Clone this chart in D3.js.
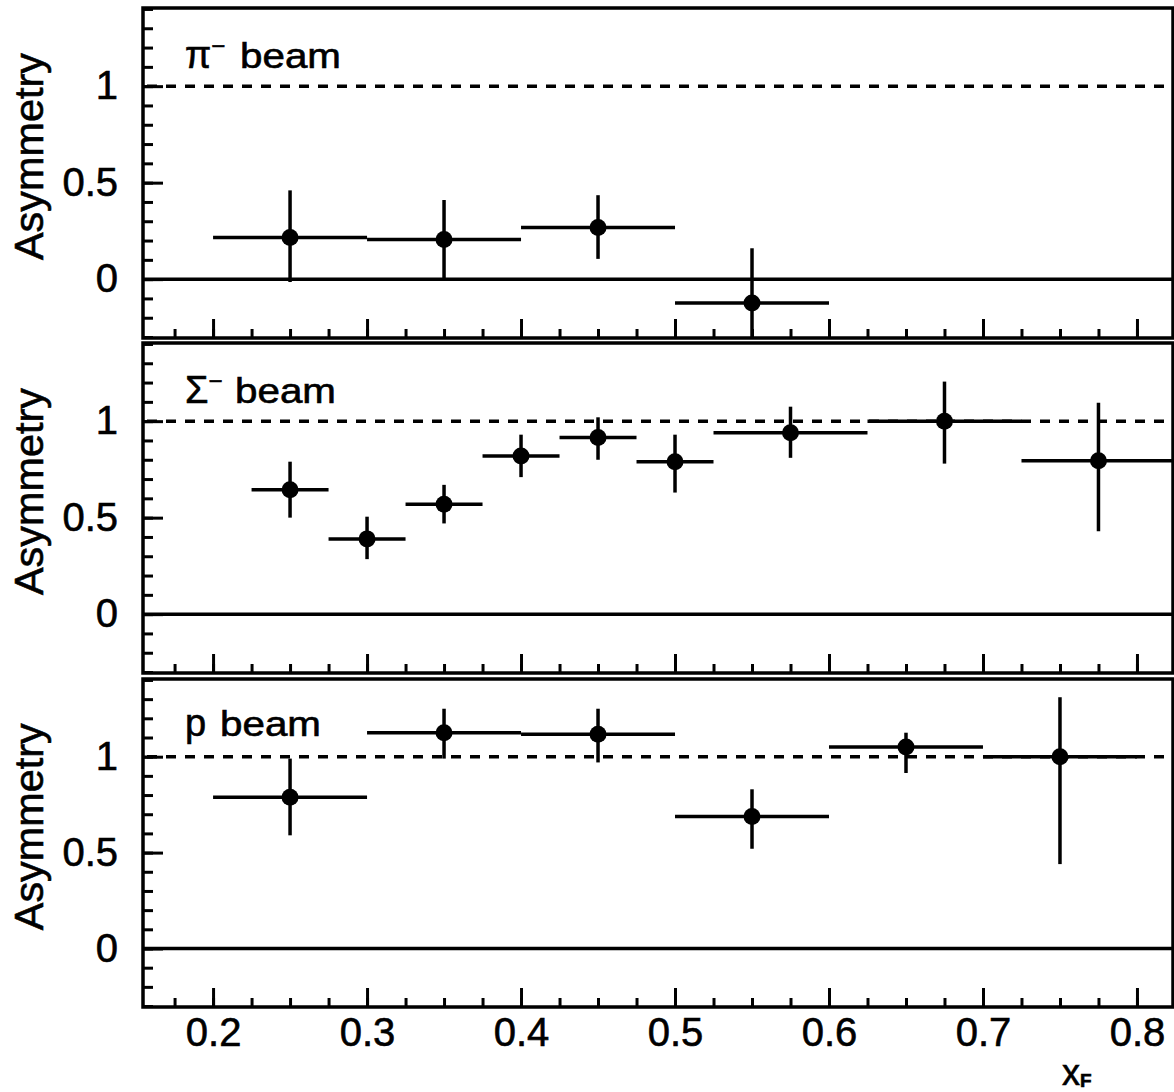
<!DOCTYPE html>
<html>
<head>
<meta charset="utf-8">
<script src="https://cdn.jsdelivr.net/npm/d3@7"></script>
<style>
  body { margin: 0; background: #fff; }
  svg { display: block; font-family: "Liberation Sans", Arial, sans-serif; }
  text { stroke: #000; stroke-width: 0.6px; }
</style>
</head>
<body>
<svg id="chart" width="1174" height="1092"></svg>
<script>
// pi- beam
const piX = [0.25, 0.35, 0.45, 0.55];
const piBins = [[0.2, 0.3], [0.3, 0.4], [0.4, 0.5], [0.5, 0.6]];
const piA = [0.216, 0.205, 0.268, -0.124];
const piErr = [[-0.015, 0.46], [0.005, 0.41], [0.105, 0.435], [-0.42, 0.16]];

// Sigma- beam
const sigX = [0.25, 0.3, 0.35, 0.4, 0.45, 0.5, 0.575, 0.675, 0.775];
const sigBins = [[0.225, 0.275], [0.275, 0.325], [0.325, 0.375], [0.375, 0.425], [0.425, 0.475],
                 [0.475, 0.525], [0.525, 0.625], [0.625, 0.725], [0.725, 0.825]];
const sigA = [0.645, 0.39, 0.57, 0.82, 0.915, 0.79, 0.94, 1.0, 0.795];
const sigErr = [[0.50, 0.79], [0.285, 0.505], [0.47, 0.67], [0.71, 0.93], [0.80, 1.02],
                [0.63, 0.93], [0.81, 1.075], [0.78, 1.205], [0.43, 1.095]];

// p beam
const pX = [0.25, 0.35, 0.45, 0.55, 0.65, 0.75];
const pBins = [[0.2, 0.3], [0.3, 0.4], [0.4, 0.5], [0.5, 0.6], [0.6, 0.7], [0.7, 0.8]];
const pA = [0.788, 1.125, 1.117, 0.688, 1.05, 1.0];
const pErr = [[0.59, 0.99], [0.99, 1.25], [0.97, 1.25], [0.52, 0.83], [0.915, 1.125], [0.44, 1.31]];

const xMajor = [0.2, 0.3, 0.4, 0.5, 0.6, 0.7, 0.8];
const xMinor = d3.range(0.175, 0.83, 0.025).map(d => +d.toFixed(3));
const yMajor = [0, 0.5, 1];
const yMinor = d3.range(-0.3, 1.41, 0.1).map(d => +d.toFixed(2));

const panels = [
    { sym: "π", sup: true, x: piX, bins: piBins, a: piA, err: piErr, top: 8, bottom: 338 },
    { sym: "Σ", sup: true, x: sigX, bins: sigBins, a: sigA, err: sigErr, top: 343, bottom: 673 },
    { sym: "p", sup: false, x: pX, bins: pBins, a: pA, err: pErr, top: 679, bottom: 1007 }
];

const svg = d3.select("#chart");
const left = 143, right = 1173;
const xScale = d3.scaleLinear().domain([0.1545, 0.8234]).range([left, right]);

panels.forEach((p, i) => {
    const y = d3.scaleLinear().domain([-0.305, 1.405]).range([p.bottom, p.top]);
    const g = svg.append("g");

    g.append("clipPath").attr("id", "clip" + i)
        .append("rect").attr("x", left).attr("y", p.top)
        .attr("width", right - left).attr("height", p.bottom - p.top);

    // minor y ticks
    g.append("g").attr("transform", `translate(${left},0)`)
        .call(d3.axisLeft(y).tickValues(yMinor).tickSize(-10).tickFormat(""))
        .call(a => a.select(".domain").remove())
        .call(a => a.selectAll("line").attr("stroke-width", 3));
    // major y ticks + labels
    g.append("g").attr("transform", `translate(${left},0)`)
        .call(d3.axisLeft(y).tickValues(yMajor).tickSize(-20).tickPadding(25)
            .tickFormat(d3.format("")))
        .call(a => a.select(".domain").remove())
        .call(a => a.selectAll("line").attr("stroke-width", 3))
        .call(a => a.selectAll("text").attr("font-size", 40).attr("fill", "#000")
            .attr("font-family", "Liberation Sans, Arial, sans-serif"));

    // x ticks at panel bottom
    g.append("g").attr("transform", `translate(0,${p.bottom})`)
        .call(d3.axisBottom(xScale).tickValues(xMinor).tickSize(-9).tickFormat(""))
        .call(a => a.select(".domain").remove())
        .call(a => a.selectAll("line").attr("stroke-width", 3));
    g.append("g").attr("transform", `translate(0,${p.bottom})`)
        .call(d3.axisBottom(xScale).tickValues(xMajor).tickSize(-19).tickPadding(11)
            .tickFormat(i === 2 ? d3.format("") : ""))
        .call(a => a.select(".domain").remove())
        .call(a => a.selectAll("line").attr("stroke-width", 3))
        .call(a => a.selectAll("text").attr("font-size", 40).attr("fill", "#000")
            .attr("font-family", "Liberation Sans, Arial, sans-serif"));

    // reference lines
    g.append("line").attr("x1", left).attr("x2", right)
        .attr("y1", y(0)).attr("y2", y(0))
        .attr("stroke", "#000").attr("stroke-width", 3.5);
    g.append("line").attr("x1", left + 4).attr("x2", right)
        .attr("y1", y(1)).attr("y2", y(1))
        .attr("stroke", "#000").attr("stroke-width", 3.5)
        .attr("stroke-dasharray", "10,9");

    // frame
    g.append("rect").attr("x", left).attr("y", p.top)
        .attr("width", right - left).attr("height", p.bottom - p.top)
        .attr("fill", "none").attr("stroke", "#000").attr("stroke-width", 3.5);

    // data
    const pts = p.x.map((xv, k) => ({ x: xv, bin: p.bins[k], a: p.a[k], err: p.err[k] }));
    const dg = g.append("g").attr("clip-path", `url(#clip${i})`);
    dg.selectAll(".hbar").data(pts).enter().append("line")
        .attr("x1", d => xScale(d.bin[0])).attr("x2", d => xScale(d.bin[1]))
        .attr("y1", d => y(d.a)).attr("y2", d => y(d.a))
        .attr("stroke", "#000").attr("stroke-width", 3.5);
    dg.selectAll(".vbar").data(pts).enter().append("line")
        .attr("x1", d => xScale(d.x)).attr("x2", d => xScale(d.x))
        .attr("y1", d => y(d.err[0])).attr("y2", d => y(d.err[1]))
        .attr("stroke", "#000").attr("stroke-width", 3.5);
    dg.selectAll("circle").data(pts).enter().append("circle")
        .attr("cx", d => xScale(d.x)).attr("cy", d => y(d.a)).attr("r", 8.5)
        .attr("fill", "#000");

    // y axis title
    const ty = y(0.635);
    svg.append("text")
        .attr("transform", `translate(43,${ty}) rotate(-90)`)
        .attr("text-anchor", "middle")
        .attr("font-size", 40)
        .attr("textLength", 207).attr("lengthAdjust", "spacingAndGlyphs")
        .text("Asymmetry");

    // beam label
    const by = y(i === 2 ? 1.11 : 1.093);
    const lab = svg.append("text").attr("x", 185).attr("y", by).attr("font-size", 38);
    lab.append("tspan").text(p.sym);
    if (p.sup) {
        lab.append("tspan").attr("dy", -14).attr("font-size", 24).text("−");
    }
    svg.append("text")
        .attr("x", i === 0 ? 240 : i === 1 ? 235 : 220).attr("y", by)
        .attr("font-size", 35)
        .attr("textLength", 101).attr("lengthAdjust", "spacingAndGlyphs")
        .text("beam");
});

// x axis title
const xt = svg.append("text").attr("x", 1062).attr("y", 1085).attr("font-size", 36);
xt.append("tspan").text("x");
xt.append("tspan").attr("dy", 2).attr("font-size", 19).attr("font-weight", "bold").text("F");
</script>
</body>
</html>
